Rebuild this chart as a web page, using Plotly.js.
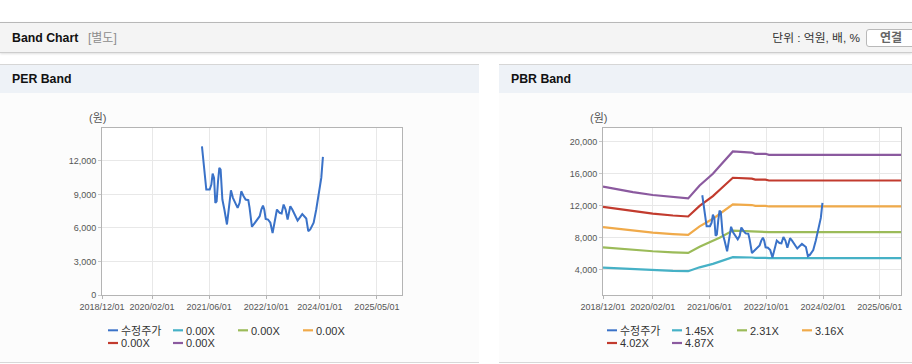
<!DOCTYPE html>
<html>
<head>
<meta charset="utf-8">
<script src="https://cdn.plot.ly/plotly-3.0.1.min.js"></script>
<style>
  html, body { margin:0; padding:0; width:912px; height:364px; overflow:hidden; background:#fff;
    font-family:"Liberation Sans","Noto Sans CJK KR",sans-serif; }
  #topbar { position:absolute; left:0; top:22px; width:912px; height:29px; background:#f4f4f4;
    border-top:1px solid #b8b8b8; border-bottom:1px solid #cdcdcd; box-shadow:0 1px 2px rgba(0,0,0,0.12); }
  #topbar .title { position:absolute; left:12px; top:0; line-height:30px; font-size:12.3px; font-weight:bold; color:#111; }
  #topbar .sub { position:absolute; left:88px; top:0; line-height:30px; font-size:12px; color:#8c8c8c; }
  #topbar .unit { position:absolute; right:52px; top:0; line-height:31px; font-size:11.8px; color:#333; }
  #topbar .btn { position:absolute; left:866px; top:6px; width:48px; height:16px; border:1px solid #b9b9b9;
    border-radius:3px; background:#fff; font-size:12px; font-weight:bold; color:#666; text-align:center; line-height:16px; }
  .panel { position:absolute; top:64px; height:297px; background:#fcfcfc; border-top:1px solid #d6d6d6; border-bottom:1px solid #d8d8d8; }
  .panel .hd { position:absolute; left:0; top:0; right:0; height:28px; background:#eef2f7; }
  .panel .hd span { position:absolute; left:12px; top:0; line-height:29px; font-size:12.3px; font-weight:bold; color:#111; }
  .chart { position:absolute; top:93px; height:269px; }
  .chart .legendlines path { d: path("M27,0h10") !important; }
  .chart .infolayer .scrollbox { clip-path: none !important; }
</style>
</head>
<body>
<div id="topbar">
  <div class="title">Band Chart</div>
  <div class="sub">[별도]</div>
  <div class="unit">단위 : 억원, 배, %</div>
  <div class="btn">연결</div>
</div>
<div class="panel" style="left:0;width:479px;"><div class="hd"><span>PER Band</span></div></div>
<div class="panel" style="left:499px;width:420px;"><div class="hd"><span>PBR Band</span></div></div>
<div id="per" class="chart" style="left:0;width:479px;"></div>
<div id="pbr" class="chart" style="left:499px;width:413px;"></div>
<script>
// ---------------- data ----------------
var priceName = '수정주가';
var priceDates = ['2021-04-01','2021-04-10','2021-04-18','2021-04-30','2021-05-08','2021-06-06','2021-06-20','2021-07-01','2021-07-13','2021-07-24',
  '2021-08-04','2021-08-16','2021-08-27','2021-09-07','2021-09-22','2021-10-09','2021-10-31','2021-11-15','2021-12-04','2021-12-21',
  '2022-01-10','2022-01-30','2022-02-16','2022-03-02','2022-03-22','2022-04-08','2022-05-01','2022-05-12','2022-06-01','2022-06-24',
  '2022-07-14','2022-08-06','2022-08-20','2022-09-03','2022-09-14','2022-09-26','2022-10-16','2022-11-05','2022-11-24','2022-12-06',
  '2022-12-31','2023-01-23','2023-02-09','2023-02-26','2023-03-15','2023-04-01','2023-04-24','2023-05-11','2023-06-03','2023-06-25',
  '2023-07-12','2023-08-04','2023-09-07','2023-09-24','2023-10-11','2023-11-09','2023-12-01','2023-12-24','2024-01-13','2024-01-27'];
var priceValues = [13300,12268,11375,10330,9438,9438,9884,10866,10480,8250,
  8393,10180,11375,11230,8545,7652,6313,7652,9375,8697,
  8250,7804,8250,9286,8840,8545,8488,7804,6107,6465,
  6759,7054,7652,8009,7652,6818,6759,6465,5550,6161,
  7652,7357,7300,8099,7652,6759,7947,7652,7206,6670,
  6907,7236,6848,5717,5866,6465,7652,9140,10480,12358];

// PER band (all multiples 0.00X, no values)
var perBandNames = ['0.00X','0.00X','0.00X','0.00X','0.00X'];
var perBandDates = ['2018-12-01','2025-12-01'];
var perBand1 = [null, null];
var perBand2 = [null, null];
var perBand3 = [null, null];
var perBand4 = [null, null];
var perBand5 = [null, null];

// PBR band
var pbrBandNames = ['1.45X','2.31X','3.16X','4.02X','4.87X'];
var pbrBandDates = ['2018-12-01','2019-08-15','2020-02-01','2020-07-23','2020-12-01','2021-03-09','2021-07-01',
  '2021-08-27','2021-12-19','2022-05-31','2022-06-30','2022-09-25','2022-10-25','2025-12-01'];
var pbrBand145 = [4278,4075,3969,3886,3843,4321,4756,5032,5583,5543,5497,5497,5461,5461];
var pbrBand231 = [6815,6491,6322,6191,6122,6884,7577,8016,8894,8831,8757,8757,8699,8699];
var pbrBand316 = [9322,8880,8649,8469,8374,9417,10365,10965,12166,12081,11980,11980,11901,11901];
var pbrBand402 = [11859,11296,11003,10774,10653,11980,13186,13949,15477,15368,15240,15240,15139,15139];
var pbrBand487 = [14367,13685,13329,13052,12906,14513,15974,16899,18750,18618,18462,18462,18340,18340];

var perXTickVals = ['2018-12-01','2020-02-01','2021-06-01','2022-10-01','2024-01-01','2025-05-01'];
var perXTickText = ['2018/12/01','2020/02/01','2021/06/01','2022/10/01','2024/01/01','2025/05/01'];
var pbrXTickVals = ['2018-12-01','2020-02-01','2021-06-01','2022-10-01','2024-02-01','2025-06-01'];
var pbrXTickText = ['2018/12/01','2020/02/01','2021/06/01','2022/10/01','2024/02/01','2025/06/01'];
var yUnitLabel = '(원)';

// ---------------- style ----------------
var colPrice = '#3a72c8';
var bandColors = ['#46b1c6','#9bbb59','#f0aa4a','#c23b2e','#8b5a9f'];
var TICKFONT = {family:'"Liberation Sans", Arial, sans-serif', size:9, color:'#555'};
var LEGFONT = {family:'"Liberation Sans", "Noto Sans CJK KR", sans-serif', size:11, color:'#333'};

function xaxis(vals, text) {
  return {type:'date', range:['2018-12-01','2025-12-01'], tickmode:'array', tickvals:vals, ticktext:text,
    showgrid:true, gridcolor:'#e8e8e8', gridwidth:1, showline:true, mirror:true, linecolor:'#b4b4b4', linewidth:1,
    ticks:'outside', ticklen:3, tickcolor:'#b4b4b4', tickfont:TICKFONT, zeroline:false, fixedrange:true};
}
function yaxis(range, dtick) {
  return {range:range, dtick:dtick, tick0:0, tickformat:',d', showgrid:true, gridcolor:'#e8e8e8', gridwidth:1,
    showline:true, mirror:true, linecolor:'#b4b4b4', linewidth:1, ticks:'outside', ticklen:3, tickcolor:'#c8c8c8',
    tickfont:TICKFONT, zeroline:false, fixedrange:true};
}
function legendCfg(x, y) {
  return {orientation:'h', x:x, xanchor:'left', y:y, yanchor:'top', entrywidth:20, entrywidthmode:'pixels',
    font:LEGFONT, bgcolor:'rgba(0,0,0,0)', borderwidth:0, itemwidth:30, itemclick:false, itemdoubleclick:false};
}
function unitAnn() {
  return [{xref:'paper', yref:'paper', x:0, y:1, xanchor:'center', yanchor:'middle', xshift:-5, yshift:10,
    text:yUnitLabel, showarrow:false, font:{family:'"Liberation Sans", "Noto Sans CJK KR", sans-serif', size:11, color:'#555'}}];
}
function bandTrace(x, y, name, color, legend, rank) {
  return {type:'scatter', mode:'lines', x:x, y:y, name:name, line:{color:color, width:2.2},
    legend:legend, legendrank:rank, hoverinfo:'skip'};
}
function priceTrace() {
  return {type:'scatter', mode:'lines', x:priceDates, y:priceValues, name:priceName,
    line:{color:colPrice, width:2}, legend:'legend', legendrank:1, hoverinfo:'skip'};
}

function fixLegend(gd) {
  gd.querySelectorAll('.legendlines path').forEach(function(p) { p.setAttribute('d', 'M27,0h10'); });
  gd.querySelectorAll('.scrollbox').forEach(function(s) { s.removeAttribute('clip-path'); });
}
function hook(gd) {
  fixLegend(gd);
  gd.on('plotly_afterplot', function(){ fixLegend(gd); });
  [0, 50, 200, 600].forEach(function(t){ setTimeout(function(){ fixLegend(gd); }, t); });
}

var perBands = [perBand1, perBand2, perBand3, perBand4, perBand5];
var perData = [];
for (var i = 0; i < 5; i++) {
  perData.push(bandTrace(perBandDates, perBands[i], perBandNames[i], bandColors[i], i < 3 ? 'legend' : 'legend2', i + 2));
}
perData.push(priceTrace());

var pbrBands = [pbrBand145, pbrBand231, pbrBand316, pbrBand402, pbrBand487];
var pbrData = [];
for (var j = 0; j < 5; j++) {
  pbrData.push(bandTrace(pbrBandDates, pbrBands[j], pbrBandNames[j], bandColors[j], j < 3 ? 'legend' : 'legend2', j + 2));
}
pbrData.push(priceTrace());

var perLayout = {
  width:479, height:269, margin:{l:102, r:77, t:35, b:67, autoexpand:false},
  paper_bgcolor:'rgba(0,0,0,0)', plot_bgcolor:'#ffffff', showlegend:true,
  xaxis:xaxis(perXTickVals, perXTickText), yaxis:yaxis([0, 14950], 3000),
  legend:legendCfg(-0.07, -0.1246), legend2:legendCfg(-0.07, -0.2006),
  annotations:unitAnn()
};
var pbrLayout = {
  width:413, height:269, margin:{l:104, r:11, t:35, b:67, autoexpand:false},
  paper_bgcolor:'rgba(0,0,0,0)', plot_bgcolor:'#ffffff', showlegend:true,
  xaxis:xaxis(pbrXTickVals, pbrXTickText), yaxis:yaxis([875, 21675], 4000),
  legend:legendCfg(-0.0772, -0.1246), legend2:legendCfg(-0.0772, -0.2006),
  annotations:unitAnn()
};
var cfg = {displayModeBar:false, staticPlot:true};
Plotly.newPlot('per', perData, perLayout, cfg).then(hook);
Plotly.newPlot('pbr', pbrData, pbrLayout, cfg).then(hook);
</script>
</body>
</html>
